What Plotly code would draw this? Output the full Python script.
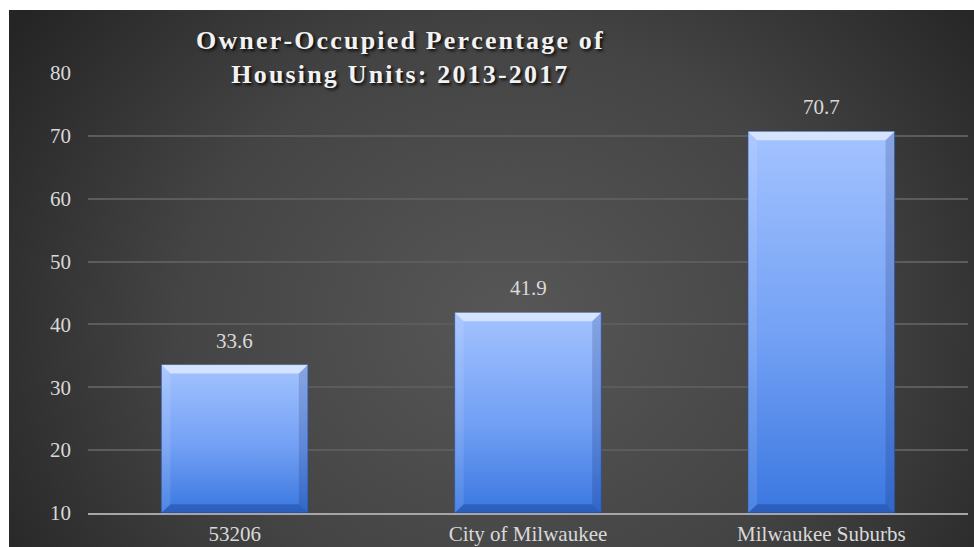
import base64
import plotly.graph_objects as go

# Owner-occupied share of housing units, ACS 2013-2017
categories = ["53206", "City of Milwaukee", "Milwaukee Suburbs"]
owner_pct = [33.6, 41.9, 70.7]
y_ticks = [10, 20, 30, 40, 50, 60, 70, 80]

title_lines = ["Owner-Occupied Percentage of", "Housing Units: 2013-2017"]

# geometry / style
W, H = 974, 547
ML, MR, MT, MB = 88, 6, 73, 34
BASE = 10
HALF_W = 0.25          # half bar width in category units
BEV_X, BEV_Y = 0.031, 1.4
SERIF = "Liberation Serif, Times New Roman, serif"
TXT = "#d9d9d9"


def spaced(s):
    # widen the tracking of the heading with hair spaces
    return "\u200a".join(s)


# dark radial-gradient backdrop
svg = (
    '<svg xmlns="http://www.w3.org/2000/svg" width="965" height="537" '
    'preserveAspectRatio="none" viewBox="0 0 965 537">'
    '<defs><radialGradient id="g" cx="0.52" cy="0.58" r="0.62" '
    'gradientTransform="translate(0.52 0.58) scale(1 1.55) translate(-0.52 -0.58)">'
    '<stop offset="0" stop-color="#575757"/>'
    '<stop offset="0.55" stop-color="#444444"/>'
    '<stop offset="1" stop-color="#252525"/>'
    '</radialGradient></defs>'
    '<rect width="965" height="537" fill="url(#g)"/></svg>'
)
bg_src = "data:image/svg+xml;base64," + base64.b64encode(svg.encode()).decode()

pw, ph = W - ML - MR, H - MT - MB
bg_x0 = (9 - ML) / pw
bg_x1 = (W - ML) / pw
bg_y1 = (H - MB - 10) / ph
bg_y0 = (H - MB - H) / ph

fig = go.Figure()

for i, v in enumerate(owner_pct):
    x0, x1 = i - HALF_W, i + HALF_W
    # body with vertical gradient
    fig.add_trace(go.Scatter(
        x=[x0, x1, x1, x0, x0], y=[BASE, BASE, v, v, BASE],
        mode="lines", fill="toself",
        line=dict(color="rgba(45,80,150,0.75)", width=1),
        fillgradient=dict(
            type="vertical", start=BASE, stop=v,
            colorscale=[[0, "#3a77e0"], [0.45, "#72a0f4"], [1, "#a4c3ff"]],
        ),
        hoverinfo="skip", showlegend=False,
    ))
    # bevel facets
    facets = [
        ([x0, x1, x1 - BEV_X, x0 + BEV_X], [v, v, v - BEV_Y, v - BEV_Y], "rgba(255,255,255,0.55)"),
        ([x0, x1, x1 - BEV_X, x0 + BEV_X], [BASE, BASE, BASE + BEV_Y, BASE + BEV_Y], "rgba(10,40,110,0.30)"),
        ([x0, x0 + BEV_X, x0 + BEV_X, x0], [BASE, BASE + BEV_Y, v - BEV_Y, v], "rgba(255,255,255,0.10)"),
        ([x1, x1 - BEV_X, x1 - BEV_X, x1], [BASE, BASE + BEV_Y, v - BEV_Y, v], "rgba(10,30,90,0.18)"),
    ]
    for fx, fy, fc in facets:
        fig.add_trace(go.Scatter(
            x=fx + [fx[0]], y=fy + [fy[0]], mode="lines", fill="toself",
            fillcolor=fc, line=dict(width=0), hoverinfo="skip", showlegend=False,
        ))
    fig.add_annotation(
        x=i, y=v, text=f"{v:.1f}", showarrow=False, yanchor="bottom", yshift=10,
        font=dict(family=SERIF, size=21, color=TXT),
    )

fig.add_annotation(
    xref="paper", yref="paper", x=(399 - ML) / pw, y=(H - MB - 58) / ph,
    xanchor="center", yanchor="middle", showarrow=False,
    text="<br>".join(spaced(t) for t in title_lines),
    font=dict(family=SERIF, size=26, color="#f2f2f2", weight="bold",
              shadow="2px 2px 3px rgba(0,0,0,0.85)"),
)

fig.add_layout_image(dict(
    source=bg_src, xref="paper", yref="paper",
    x=bg_x0, y=bg_y1, sizex=bg_x1 - bg_x0, sizey=bg_y1 - bg_y0,
    xanchor="left", yanchor="top", sizing="stretch", layer="below",
))

fig.update_layout(
    width=W, height=H,
    margin=dict(l=ML, r=MR, t=MT, b=MB),
    paper_bgcolor="white", plot_bgcolor="rgba(0,0,0,0)",
    xaxis=dict(
        range=[-0.5, 2.5], tickvals=list(range(len(categories))), ticktext=categories,
        showgrid=False, zeroline=False, showline=True, linecolor="#a6a6a6", linewidth=2,
        ticks="", ticklabelstandoff=1, automargin=False,
        tickfont=dict(family=SERIF, size=21, color=TXT),
    ),
    yaxis=dict(
        range=[BASE, 80], tickvals=y_ticks, showgrid=True, gridcolor="#5c5c5c", gridwidth=1.5,
        zeroline=False, showline=False, ticks="", ticklabelstandoff=16, automargin=False,
        tickfont=dict(family=SERIF, size=21, color=TXT),
    ),
)

fig.write_html("out.html")
